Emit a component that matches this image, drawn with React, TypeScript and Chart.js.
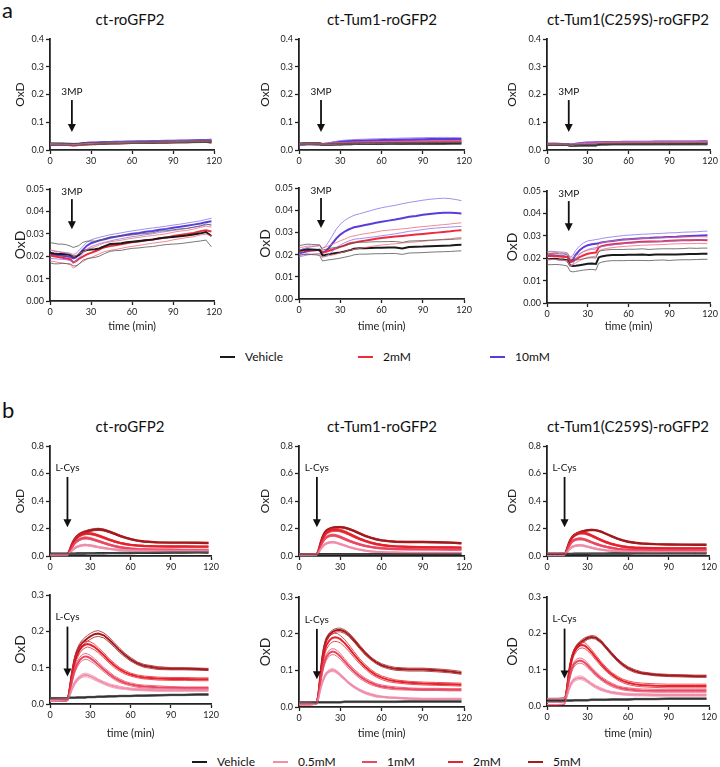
import React, { useEffect, useRef } from "react";
import { Chart, registerables } from "chart.js";
Chart.register(...registerables);

const FONT = "Lato, 'Open Sans', sans-serif";

// ---------- time axes ----------
const TIME_A = [0, 3, 6, 9, 12, 15, 17, 19, 21, 24, 27, 30, 33, 36, 38, 40, 44, 48, 52, 56, 60, 65, 70, 75, 80, 85, 90, 95, 100, 105, 110, 114, 118];
const TIME_B = [0, 4, 8, 12, 13, 14, 15, 16, 17, 18, 19, 20, 22, 24, 26, 28, 30, 33, 36, 40, 44, 48, 52, 56, 60, 65, 70, 80, 90, 100, 110, 118];

const TITLES = ["ct-roGFP2", "ct-Tum1-roGFP2", "ct-Tum1(C259S)-roGFP2"];
const LEGEND_A = ["Vehicle", "2mM", "10mM"];
const LEGEND_B = ["Vehicle", "0.5mM", "1mM", "2mM", "5mM"];

// ---------- a: 3MP, ct-roGFP2 ----------
const A1_VEH = [0.0215, 0.0212, 0.0210, 0.0211, 0.0209, 0.0205, 0.0198, 0.0200, 0.0205, 0.0222, 0.0228, 0.0230, 0.0231, 0.0235, 0.0240, 0.0245, 0.0254, 0.0256, 0.0258, 0.0262, 0.0265, 0.0268, 0.0271, 0.0274, 0.0280, 0.0283, 0.0286, 0.0289, 0.0292, 0.0297, 0.0302, 0.0308, 0.0290];
const A1_VEH_SEM = [0.0045, 0.0046, 0.0044, 0.0043, 0.0042, 0.0040, 0.0041, 0.0043, 0.0042, 0.0040, 0.0039, 0.0038, 0.0036, 0.0035, 0.0034, 0.0033, 0.0032, 0.0031, 0.0032, 0.0031, 0.0030, 0.0031, 0.0030, 0.0031, 0.0032, 0.0031, 0.0032, 0.0033, 0.0032, 0.0033, 0.0034, 0.0036, 0.0048];
const A1_2MM = [0.0203, 0.0200, 0.0196, 0.0193, 0.0190, 0.0186, 0.0172, 0.0178, 0.0188, 0.0198, 0.0208, 0.0215, 0.0222, 0.0230, 0.0236, 0.0240, 0.0245, 0.0249, 0.0253, 0.0258, 0.0262, 0.0266, 0.0271, 0.0275, 0.0279, 0.0283, 0.0290, 0.0295, 0.0299, 0.0304, 0.0312, 0.0316, 0.0310];
const A1_2MM_SEM = [0.0025, 0.0024, 0.0024, 0.0023, 0.0023, 0.0024, 0.0025, 0.0024, 0.0023, 0.0022, 0.0021, 0.0021, 0.0020, 0.0020, 0.0020, 0.0019, 0.0019, 0.0019, 0.0018, 0.0018, 0.0018, 0.0018, 0.0018, 0.0017, 0.0017, 0.0017, 0.0017, 0.0017, 0.0016, 0.0017, 0.0017, 0.0018, 0.0020];
const A1_10MM = [0.0208, 0.0206, 0.0204, 0.0202, 0.0200, 0.0196, 0.0190, 0.0195, 0.0208, 0.0228, 0.0247, 0.0258, 0.0264, 0.0270, 0.0273, 0.0276, 0.0282, 0.0287, 0.0291, 0.0296, 0.0300, 0.0304, 0.0309, 0.0313, 0.0318, 0.0322, 0.0327, 0.0331, 0.0336, 0.0341, 0.0346, 0.0352, 0.0356];
const A1_10MM_SEM = [0.0018, 0.0017, 0.0017, 0.0016, 0.0016, 0.0017, 0.0018, 0.0017, 0.0016, 0.0016, 0.0015, 0.0015, 0.0015, 0.0014, 0.0014, 0.0014, 0.0014, 0.0013, 0.0013, 0.0013, 0.0013, 0.0013, 0.0013, 0.0013, 0.0012, 0.0012, 0.0012, 0.0012, 0.0012, 0.0012, 0.0012, 0.0012, 0.0013];

// ---------- a: 3MP, ct-Tum1-roGFP2 ----------
const A2_VEH = [0.0218, 0.0222, 0.0224, 0.0223, 0.0222, 0.0220, 0.0196, 0.0198, 0.0201, 0.0204, 0.0207, 0.0210, 0.0214, 0.0219, 0.0222, 0.0226, 0.0229, 0.0229, 0.0230, 0.0231, 0.0231, 0.0232, 0.0232, 0.0228, 0.0234, 0.0235, 0.0236, 0.0238, 0.0239, 0.0240, 0.0241, 0.0243, 0.0244];
const A2_VEH_SEM = [0.0022, 0.0022, 0.0023, 0.0023, 0.0023, 0.0024, 0.0024, 0.0025, 0.0025, 0.0026, 0.0026, 0.0026, 0.0026, 0.0027, 0.0027, 0.0027, 0.0027, 0.0027, 0.0027, 0.0027, 0.0027, 0.0027, 0.0027, 0.0027, 0.0027, 0.0027, 0.0027, 0.0027, 0.0027, 0.0027, 0.0027, 0.0027, 0.0027];
const A2_2MM = [0.0215, 0.0218, 0.0221, 0.0220, 0.0221, 0.0222, 0.0210, 0.0212, 0.0216, 0.0222, 0.0228, 0.0235, 0.0241, 0.0249, 0.0252, 0.0254, 0.0259, 0.0263, 0.0267, 0.0271, 0.0275, 0.0278, 0.0281, 0.0284, 0.0287, 0.0290, 0.0293, 0.0296, 0.0299, 0.0302, 0.0305, 0.0308, 0.0310];
const A2_2MM_SEM = [0.0015, 0.0016, 0.0017, 0.0018, 0.0018, 0.0019, 0.0020, 0.0021, 0.0022, 0.0024, 0.0026, 0.0027, 0.0028, 0.0029, 0.0030, 0.0030, 0.0031, 0.0031, 0.0031, 0.0031, 0.0032, 0.0032, 0.0032, 0.0032, 0.0032, 0.0033, 0.0033, 0.0033, 0.0033, 0.0033, 0.0033, 0.0033, 0.0033];
const A2_10MM = [0.0205, 0.0210, 0.0215, 0.0218, 0.0220, 0.0222, 0.0208, 0.0214, 0.0225, 0.0248, 0.0272, 0.0290, 0.0303, 0.0313, 0.0318, 0.0323, 0.0328, 0.0333, 0.0338, 0.0343, 0.0348, 0.0353, 0.0358, 0.0364, 0.0370, 0.0374, 0.0379, 0.0383, 0.0386, 0.0388, 0.0388, 0.0387, 0.0385];
const A2_10MM_SEM = [0.0015, 0.0016, 0.0017, 0.0017, 0.0018, 0.0018, 0.0020, 0.0022, 0.0027, 0.0035, 0.0042, 0.0047, 0.0050, 0.0052, 0.0053, 0.0054, 0.0056, 0.0058, 0.0060, 0.0062, 0.0063, 0.0064, 0.0064, 0.0065, 0.0065, 0.0066, 0.0066, 0.0066, 0.0066, 0.0066, 0.0064, 0.0061, 0.0058];

// ---------- a: 3MP, ct-Tum1(C259S)-roGFP2 ----------
const A3_VEH = [0.0195, 0.0196, 0.0197, 0.0195, 0.0194, 0.0190, 0.0168, 0.0165, 0.0166, 0.0169, 0.0172, 0.0175, 0.0176, 0.0174, 0.0203, 0.0208, 0.0212, 0.0214, 0.0214, 0.0214, 0.0215, 0.0215, 0.0216, 0.0214, 0.0216, 0.0217, 0.0216, 0.0217, 0.0218, 0.0219, 0.0219, 0.0220, 0.0220];
const A3_VEH_SEM = [0.0024, 0.0025, 0.0025, 0.0024, 0.0025, 0.0025, 0.0026, 0.0026, 0.0025, 0.0025, 0.0025, 0.0026, 0.0026, 0.0027, 0.0026, 0.0026, 0.0025, 0.0025, 0.0025, 0.0025, 0.0025, 0.0025, 0.0026, 0.0025, 0.0025, 0.0025, 0.0026, 0.0025, 0.0025, 0.0026, 0.0025, 0.0025, 0.0025];
const A3_2MM = [0.0210, 0.0211, 0.0210, 0.0208, 0.0207, 0.0205, 0.0182, 0.0186, 0.0195, 0.0205, 0.0213, 0.0220, 0.0223, 0.0225, 0.0248, 0.0254, 0.0259, 0.0262, 0.0265, 0.0267, 0.0269, 0.0271, 0.0273, 0.0274, 0.0275, 0.0276, 0.0278, 0.0279, 0.0280, 0.0280, 0.0281, 0.0281, 0.0280];
const A3_2MM_SEM = [0.0017, 0.0017, 0.0016, 0.0016, 0.0016, 0.0016, 0.0017, 0.0017, 0.0016, 0.0016, 0.0016, 0.0016, 0.0016, 0.0016, 0.0016, 0.0016, 0.0015, 0.0015, 0.0015, 0.0015, 0.0015, 0.0015, 0.0015, 0.0015, 0.0015, 0.0015, 0.0015, 0.0015, 0.0015, 0.0015, 0.0015, 0.0015, 0.0015];
const A3_10MM = [0.0212, 0.0213, 0.0212, 0.0210, 0.0209, 0.0206, 0.0186, 0.0192, 0.0215, 0.0236, 0.0250, 0.0258, 0.0262, 0.0265, 0.0267, 0.0270, 0.0274, 0.0277, 0.0280, 0.0283, 0.0285, 0.0287, 0.0289, 0.0290, 0.0292, 0.0293, 0.0295, 0.0296, 0.0298, 0.0299, 0.0300, 0.0301, 0.0302];
const A3_10MM_SEM = [0.0018, 0.0018, 0.0018, 0.0018, 0.0018, 0.0018, 0.0019, 0.0019, 0.0019, 0.0019, 0.0019, 0.0019, 0.0018, 0.0018, 0.0018, 0.0018, 0.0018, 0.0018, 0.0018, 0.0018, 0.0018, 0.0018, 0.0018, 0.0018, 0.0018, 0.0018, 0.0018, 0.0018, 0.0018, 0.0018, 0.0018, 0.0019, 0.0019];

// ---------- b: L-Cys, ct-roGFP2 ----------
const B1_VEH = [0.016, 0.016, 0.016, 0.016, 0.016, 0.017, 0.017, 0.017, 0.017, 0.017, 0.017, 0.018, 0.018, 0.018, 0.018, 0.019, 0.019, 0.019, 0.020, 0.020, 0.021, 0.021, 0.022, 0.022, 0.022, 0.023, 0.023, 0.024, 0.025, 0.025, 0.026, 0.026];
const B1_VEH_SEM = [0.002, 0.002, 0.002, 0.002, 0.002, 0.002, 0.002, 0.002, 0.002, 0.002, 0.002, 0.002, 0.002, 0.002, 0.002, 0.002, 0.002, 0.002, 0.002, 0.002, 0.002, 0.002, 0.002, 0.002, 0.002, 0.002, 0.002, 0.002, 0.002, 0.002, 0.002, 0.002];
const B1_05 = [0.010, 0.010, 0.011, 0.011, 0.012, 0.018, 0.028, 0.038, 0.047, 0.055, 0.061, 0.066, 0.073, 0.078, 0.080, 0.079, 0.076, 0.071, 0.065, 0.058, 0.052, 0.048, 0.045, 0.043, 0.041, 0.040, 0.039, 0.038, 0.038, 0.038, 0.038, 0.038];
const B1_05_SEM = [0.003, 0.003, 0.003, 0.003, 0.003, 0.003, 0.004, 0.004, 0.005, 0.005, 0.005, 0.005, 0.005, 0.005, 0.005, 0.005, 0.005, 0.005, 0.004, 0.004, 0.004, 0.004, 0.004, 0.003, 0.003, 0.003, 0.003, 0.003, 0.003, 0.003, 0.003, 0.003];
const B1_1 = [0.010, 0.010, 0.010, 0.011, 0.012, 0.022, 0.040, 0.058, 0.074, 0.088, 0.099, 0.108, 0.120, 0.128, 0.131, 0.130, 0.126, 0.118, 0.108, 0.095, 0.083, 0.072, 0.064, 0.058, 0.054, 0.050, 0.048, 0.046, 0.045, 0.044, 0.044, 0.044];
const B1_1_SEM = [0.003, 0.003, 0.003, 0.003, 0.003, 0.004, 0.005, 0.006, 0.007, 0.007, 0.008, 0.008, 0.008, 0.008, 0.008, 0.008, 0.008, 0.007, 0.007, 0.006, 0.006, 0.005, 0.005, 0.004, 0.004, 0.004, 0.004, 0.004, 0.003, 0.003, 0.003, 0.003];
const B1_2 = [0.010, 0.010, 0.010, 0.011, 0.012, 0.025, 0.048, 0.072, 0.093, 0.110, 0.123, 0.133, 0.148, 0.158, 0.163, 0.165, 0.163, 0.157, 0.148, 0.134, 0.119, 0.106, 0.095, 0.087, 0.081, 0.076, 0.073, 0.070, 0.069, 0.069, 0.068, 0.068];
const B1_2_SEM = [0.003, 0.003, 0.003, 0.003, 0.003, 0.004, 0.006, 0.007, 0.008, 0.009, 0.009, 0.009, 0.009, 0.009, 0.009, 0.008, 0.008, 0.008, 0.007, 0.007, 0.006, 0.006, 0.005, 0.005, 0.004, 0.004, 0.004, 0.004, 0.004, 0.004, 0.004, 0.004];
const B1_5 = [0.010, 0.010, 0.010, 0.011, 0.012, 0.026, 0.050, 0.076, 0.098, 0.117, 0.131, 0.142, 0.158, 0.168, 0.175, 0.181, 0.186, 0.192, 0.194, 0.189, 0.177, 0.162, 0.147, 0.134, 0.123, 0.112, 0.105, 0.099, 0.097, 0.097, 0.096, 0.095];
const B1_5_SEM = [0.003, 0.003, 0.003, 0.003, 0.003, 0.004, 0.006, 0.007, 0.008, 0.008, 0.008, 0.008, 0.008, 0.008, 0.008, 0.008, 0.008, 0.008, 0.008, 0.007, 0.007, 0.006, 0.006, 0.005, 0.005, 0.004, 0.004, 0.004, 0.003, 0.003, 0.003, 0.003];

// ---------- b: L-Cys, ct-Tum1-roGFP2 ----------
const B2_VEH = [0.013, 0.013, 0.013, 0.013, 0.013, 0.013, 0.013, 0.013, 0.013, 0.013, 0.013, 0.013, 0.013, 0.013, 0.013, 0.013, 0.013, 0.014, 0.014, 0.014, 0.014, 0.014, 0.014, 0.014, 0.014, 0.014, 0.014, 0.015, 0.015, 0.015, 0.015, 0.015];
const B2_VEH_SEM = [0.002, 0.002, 0.002, 0.002, 0.002, 0.002, 0.002, 0.002, 0.002, 0.002, 0.002, 0.002, 0.002, 0.002, 0.002, 0.002, 0.002, 0.002, 0.002, 0.002, 0.002, 0.002, 0.002, 0.002, 0.002, 0.002, 0.002, 0.002, 0.002, 0.002, 0.002, 0.002];
const B2_05 = [0.010, 0.010, 0.010, 0.011, 0.012, 0.022, 0.040, 0.055, 0.068, 0.078, 0.086, 0.092, 0.098, 0.101, 0.099, 0.094, 0.087, 0.077, 0.066, 0.055, 0.046, 0.039, 0.034, 0.030, 0.028, 0.026, 0.025, 0.023, 0.022, 0.022, 0.022, 0.022];
const B2_05_SEM = [0.004, 0.004, 0.004, 0.004, 0.004, 0.004, 0.004, 0.004, 0.004, 0.004, 0.004, 0.004, 0.004, 0.004, 0.004, 0.004, 0.004, 0.003, 0.003, 0.003, 0.003, 0.003, 0.003, 0.003, 0.002, 0.002, 0.002, 0.002, 0.002, 0.002, 0.002, 0.002];
const B2_1 = [0.010, 0.010, 0.010, 0.011, 0.012, 0.028, 0.055, 0.080, 0.100, 0.116, 0.128, 0.137, 0.147, 0.151, 0.150, 0.145, 0.138, 0.125, 0.112, 0.097, 0.084, 0.074, 0.066, 0.060, 0.056, 0.053, 0.051, 0.049, 0.048, 0.048, 0.047, 0.047];
const B2_1_SEM = [0.004, 0.004, 0.004, 0.004, 0.004, 0.005, 0.006, 0.007, 0.008, 0.008, 0.008, 0.008, 0.008, 0.008, 0.008, 0.008, 0.008, 0.007, 0.007, 0.006, 0.006, 0.005, 0.005, 0.004, 0.004, 0.004, 0.004, 0.003, 0.003, 0.003, 0.003, 0.003];
const B2_2 = [0.010, 0.010, 0.010, 0.011, 0.012, 0.030, 0.062, 0.095, 0.122, 0.143, 0.158, 0.169, 0.181, 0.188, 0.190, 0.189, 0.185, 0.175, 0.162, 0.143, 0.125, 0.110, 0.097, 0.087, 0.080, 0.074, 0.070, 0.066, 0.064, 0.063, 0.062, 0.061];
const B2_2_SEM = [0.004, 0.004, 0.004, 0.004, 0.004, 0.005, 0.007, 0.009, 0.010, 0.011, 0.011, 0.011, 0.011, 0.011, 0.011, 0.011, 0.010, 0.010, 0.009, 0.008, 0.007, 0.006, 0.006, 0.005, 0.005, 0.005, 0.004, 0.004, 0.004, 0.004, 0.004, 0.004];
const B2_5 = [0.010, 0.010, 0.010, 0.011, 0.012, 0.032, 0.068, 0.105, 0.135, 0.158, 0.174, 0.185, 0.197, 0.204, 0.208, 0.210, 0.210, 0.206, 0.198, 0.182, 0.164, 0.147, 0.133, 0.122, 0.114, 0.108, 0.104, 0.102, 0.102, 0.100, 0.097, 0.093];
const B2_5_SEM = [0.004, 0.004, 0.004, 0.004, 0.004, 0.005, 0.006, 0.006, 0.006, 0.006, 0.006, 0.006, 0.005, 0.005, 0.005, 0.005, 0.005, 0.005, 0.005, 0.005, 0.005, 0.005, 0.004, 0.004, 0.004, 0.004, 0.004, 0.004, 0.004, 0.004, 0.004, 0.004];

// ---------- b: L-Cys, ct-Tum1(C259S)-roGFP2 ----------
const B3_VEH = [0.015, 0.015, 0.015, 0.015, 0.015, 0.015, 0.015, 0.015, 0.015, 0.015, 0.015, 0.016, 0.016, 0.016, 0.016, 0.016, 0.016, 0.017, 0.017, 0.017, 0.017, 0.018, 0.018, 0.018, 0.018, 0.019, 0.019, 0.019, 0.020, 0.020, 0.020, 0.020];
const B3_VEH_SEM = [0.002, 0.002, 0.002, 0.002, 0.002, 0.002, 0.002, 0.002, 0.002, 0.002, 0.002, 0.002, 0.002, 0.002, 0.002, 0.002, 0.002, 0.002, 0.002, 0.002, 0.002, 0.002, 0.002, 0.002, 0.002, 0.002, 0.002, 0.002, 0.002, 0.002, 0.002, 0.002];
const B3_05 = [0.012, 0.012, 0.012, 0.013, 0.014, 0.020, 0.032, 0.044, 0.054, 0.062, 0.068, 0.072, 0.076, 0.078, 0.077, 0.073, 0.068, 0.060, 0.053, 0.046, 0.041, 0.037, 0.035, 0.033, 0.032, 0.031, 0.031, 0.030, 0.030, 0.030, 0.030, 0.030];
const B3_05_SEM = [0.008, 0.008, 0.008, 0.008, 0.008, 0.006, 0.005, 0.005, 0.005, 0.005, 0.005, 0.005, 0.005, 0.005, 0.005, 0.005, 0.004, 0.004, 0.004, 0.004, 0.003, 0.003, 0.003, 0.003, 0.003, 0.003, 0.003, 0.003, 0.003, 0.003, 0.003, 0.003];
const B3_1 = [0.012, 0.012, 0.012, 0.013, 0.014, 0.024, 0.045, 0.066, 0.084, 0.098, 0.108, 0.115, 0.122, 0.125, 0.124, 0.119, 0.112, 0.100, 0.089, 0.076, 0.066, 0.058, 0.052, 0.048, 0.046, 0.044, 0.043, 0.042, 0.042, 0.042, 0.042, 0.042];
const B3_1_SEM = [0.008, 0.008, 0.008, 0.008, 0.008, 0.006, 0.006, 0.007, 0.007, 0.007, 0.007, 0.007, 0.007, 0.007, 0.007, 0.007, 0.007, 0.006, 0.006, 0.005, 0.005, 0.005, 0.004, 0.004, 0.004, 0.004, 0.004, 0.004, 0.004, 0.004, 0.004, 0.004];
const B3_2 = [0.012, 0.012, 0.012, 0.013, 0.014, 0.026, 0.052, 0.080, 0.104, 0.123, 0.137, 0.147, 0.159, 0.166, 0.168, 0.166, 0.160, 0.148, 0.134, 0.116, 0.100, 0.087, 0.077, 0.069, 0.064, 0.060, 0.058, 0.056, 0.055, 0.055, 0.055, 0.055];
const B3_2_SEM = [0.009, 0.009, 0.009, 0.009, 0.009, 0.007, 0.007, 0.008, 0.008, 0.008, 0.008, 0.008, 0.008, 0.008, 0.008, 0.008, 0.008, 0.007, 0.007, 0.006, 0.006, 0.005, 0.005, 0.005, 0.005, 0.005, 0.005, 0.005, 0.005, 0.005, 0.005, 0.005];
const B3_5 = [0.012, 0.012, 0.012, 0.013, 0.014, 0.028, 0.056, 0.086, 0.110, 0.128, 0.141, 0.151, 0.164, 0.172, 0.178, 0.183, 0.187, 0.190, 0.188, 0.177, 0.160, 0.143, 0.127, 0.114, 0.104, 0.096, 0.091, 0.086, 0.084, 0.083, 0.082, 0.082];
const B3_5_SEM = [0.009, 0.009, 0.009, 0.009, 0.009, 0.006, 0.005, 0.005, 0.005, 0.005, 0.005, 0.005, 0.005, 0.005, 0.005, 0.005, 0.004, 0.004, 0.004, 0.004, 0.004, 0.004, 0.004, 0.004, 0.004, 0.004, 0.003, 0.003, 0.003, 0.003, 0.003, 0.003];

// ---------- colours ----------
const C_VEH = "#1a1a1a";
const C_VEH_THIN = "#555555";
const C_A2 = "#ee2a3c";
const C_A2_THIN = "#f06a78";
const C_A10 = "#5a3bdc";
const C_A10_THIN = "#8a72ea";
const C_B05 = "#f08eab";
const C_B1 = "#ea4862";
const C_B2 = "#e6232d";
const C_B5 = "#a31b1e";

type Series = { mean: number[]; sem: number[]; color: string; thin: string };
type Ann = { text: string; x: number; ty: number; y1: number; y2: number };
type Panel = {
  L: number; T: number; R: number; B: number;
  yMax: number; yStep: number; yDec: number;
  xTitleY: number | null; yTitleX: number; yTitleSize: number;
  time: number[]; series: Series[]; ann: Ann; meanWidth: number;
};

const aSeries = (veh: number[], vehS: number[], r: number[], rS: number[], p: number[], pS: number[]): Series[] => [
  { mean: veh, sem: vehS, color: C_VEH, thin: C_VEH_THIN },
  { mean: r, sem: rS, color: C_A2, thin: C_A2_THIN },
  { mean: p, sem: pS, color: C_A10, thin: C_A10_THIN },
];
const bSeries = (v: number[], vS: number[], a: number[], aS: number[], b: number[], bS: number[], c: number[], cS: number[], d: number[], dS: number[]): Series[] => [
  { mean: v, sem: vS, color: C_VEH, thin: C_VEH_THIN },
  { mean: a, sem: aS, color: C_B05, thin: C_B05 },
  { mean: b, sem: bS, color: C_B1, thin: C_B1 },
  { mean: c, sem: cS, color: C_B2, thin: C_B2 },
  { mean: d, sem: dS, color: C_B5, thin: C_B5 },
];

const A_SER = [
  aSeries(A1_VEH, A1_VEH_SEM, A1_2MM, A1_2MM_SEM, A1_10MM, A1_10MM_SEM),
  aSeries(A2_VEH, A2_VEH_SEM, A2_2MM, A2_2MM_SEM, A2_10MM, A2_10MM_SEM),
  aSeries(A3_VEH, A3_VEH_SEM, A3_2MM, A3_2MM_SEM, A3_10MM, A3_10MM_SEM),
];
const B_SER = [
  bSeries(B1_VEH, B1_VEH_SEM, B1_05, B1_05_SEM, B1_1, B1_1_SEM, B1_2, B1_2_SEM, B1_5, B1_5_SEM),
  bSeries(B2_VEH, B2_VEH_SEM, B2_05, B2_05_SEM, B2_1, B2_1_SEM, B2_2, B2_2_SEM, B2_5, B2_5_SEM),
  bSeries(B3_VEH, B3_VEH_SEM, B3_05, B3_05_SEM, B3_1, B3_1_SEM, B3_2, B3_2_SEM, B3_5, B3_5_SEM),
];

const COLS = [
  { L: 50, R: 216, yt: 20 },
  { L: 299, R: 466, yt: 265 },
  { L: 547, R: 712, yt: 512 },
];

const PANELS: Panel[] = [];
COLS.forEach((c, i) => {
  PANELS.push({ L: c.L, T: 39, R: c.R, B: 150, yMax: 0.4, yStep: 0.1, yDec: 1, xTitleY: null, yTitleX: c.yt, yTitleSize: 12,
    time: TIME_A, series: A_SER[i], meanWidth: 2.6, ann: { text: "3MP", x: 16, ty: 0.209, y1: 0.18, y2: 0.065 } });
  PANELS.push({ L: c.L, T: [189, 188, 191][i], R: c.R, B: [301, 299, 303][i], yMax: 0.05, yStep: 0.01, yDec: 2, xTitleY: 326, yTitleX: c.yt, yTitleSize: 14,
    time: TIME_A, series: A_SER[i], meanWidth: 2, ann: { text: "3MP", x: 16, ty: 0.0488, y1: 0.0455, y2: 0.032 } });
  PANELS.push({ L: c.L, T: 446, R: [213, 466, 711][i], B: 556, yMax: 0.8, yStep: 0.2, yDec: 1, xTitleY: null, yTitleX: c.yt, yTitleSize: 12,
    time: TIME_B, series: B_SER[i], meanWidth: 2.4, ann: { text: "L-Cys", x: 13, ty: 0.64, y1: 0.575, y2: 0.21 } });
  PANELS.push({ L: c.L, T: [595, 597, 597][i], R: [213, 466, 711][i], B: [704, 707, 706][i], yMax: 0.3, yStep: 0.1, yDec: 1, xTitleY: 733, yTitleX: c.yt, yTitleSize: 14,
    time: TIME_B, series: B_SER[i], meanWidth: 2, ann: { text: "L-Cys", x: 13, ty: 0.239, y1: 0.213, y2: 0.076 } });
});

function ChartPanel({ p }: { p: Panel }) {
  const ref = useRef<HTMLCanvasElement | null>(null);
  const xh = p.xTitleY != null ? 36 : 20;
  const padTop = 8;
  const padRight = 8;
  const cl = p.L - 50;
  const ct = p.T - padTop;
  const cw = p.R - p.L + 50 + padRight;
  const chh = p.B - p.T + padTop + xh;

  useEffect(() => {
    if (!ref.current) return;
    const datasets: any[] = [];
    p.series.forEach((s) => {
      const up = p.time.map((t, i) => ({ x: t, y: s.mean[i] + s.sem[i] }));
      const lo = p.time.map((t, i) => ({ x: t, y: s.mean[i] - s.sem[i] }));
      datasets.push({ data: up, borderColor: s.thin, borderWidth: 0.8, pointRadius: 0, tension: 0, fill: false });
      datasets.push({ data: lo, borderColor: s.thin, borderWidth: 0.8, pointRadius: 0, tension: 0, fill: false });
    });
    p.series.forEach((s) => {
      datasets.push({ data: p.time.map((t, i) => ({ x: t, y: s.mean[i] })), borderColor: s.color, borderWidth: p.meanWidth, pointRadius: 0, tension: 0, fill: false });
    });

    const yTitleLh = p.yTitleSize * 1.2;
    const yTitlePad = p.yTitleX - cl - yTitleLh / 2;
    const xTitleLh = 11 * 1.2;
    const xTitlePad = p.xTitleY != null ? (ct + chh - xTitleLh / 2) - p.xTitleY : 0;

    const annPlugin = {
      id: "arrowAnn",
      afterDatasetsDraw(chart: any) {
        const { ctx, scales } = chart;
        const a = p.ann;
        const px = scales.x.getPixelForValue(a.x);
        const ty = scales.y.getPixelForValue(a.ty);
        const y1 = scales.y.getPixelForValue(a.y1);
        const y2 = scales.y.getPixelForValue(a.y2);
        ctx.save();
        ctx.fillStyle = "#111";
        ctx.strokeStyle = "#111";
        ctx.font = `10px ${FONT}`;
        ctx.textAlign = "center";
        ctx.textBaseline = "middle";
        ctx.fillText(a.text, px, ty);
        ctx.lineWidth = 1.8;
        ctx.beginPath();
        ctx.moveTo(px, y1);
        ctx.lineTo(px, y2 - 6);
        ctx.stroke();
        ctx.beginPath();
        ctx.moveTo(px - 4, y2 - 8);
        ctx.lineTo(px + 4, y2 - 8);
        ctx.lineTo(px, y2);
        ctx.closePath();
        ctx.fill();
        ctx.restore();
      },
    };

    const axisCommon = {
      grid: { display: true, drawOnChartArea: false, drawTicks: true, tickLength: 4, tickColor: "#222", tickWidth: 1.3 },
      border: { display: true, color: "#222", width: 1.8 },
    };

    const chart = new Chart(ref.current, {
      type: "line",
      data: { datasets },
      options: {
        animation: false,
        responsive: false,
        maintainAspectRatio: false,
        events: [],
        layout: { padding: { top: padTop, right: padRight, left: 0, bottom: 0 } },
        plugins: { legend: { display: false }, tooltip: { enabled: false } },
        scales: {
          x: {
            type: "linear", min: 0, max: 120,
            ...axisCommon,
            ticks: { stepSize: 30, maxRotation: 0, padding: 2, color: "#222", font: { family: FONT, size: 9 } },
            title: { display: p.xTitleY != null, text: "time (min)", color: "#222", font: { family: FONT, size: 11 }, padding: { top: 0, bottom: xTitlePad } },
            afterFit: (s: any) => { s.height = xh; },
          },
          y: {
            type: "linear", min: 0, max: p.yMax,
            ...axisCommon,
            ticks: { stepSize: p.yStep, padding: 2, color: "#222", font: { family: FONT, size: 9 }, callback: (v: any) => Number(v).toFixed(p.yDec) },
            title: { display: true, text: "OxD", color: "#222", font: { family: FONT, size: p.yTitleSize }, padding: { top: yTitlePad, bottom: 0 } },
            afterFit: (s: any) => { s.width = 50; },
          },
        },
      } as any,
      plugins: [annPlugin],
    });
    return () => chart.destroy();
  }, []);

  return <canvas ref={ref} width={cw} height={chh} style={{ position: "absolute", left: cl, top: ct, width: cw, height: chh }} />;
}

const TITLE_X = [130, 382, 628];

function Text({ x, y, size, children }: { x: number; y: number; size: number; children: any }) {
  return (
    <div style={{ position: "absolute", left: x, top: y, transform: "translate(-50%, -50%)", fontFamily: FONT, fontSize: size, color: "#111", whiteSpace: "nowrap", lineHeight: 1 }}>
      {children}
    </div>
  );
}

function LegendItem({ x, y, color, label }: { x: number; y: number; color: string; label: string }) {
  return (
    <>
      <div style={{ position: "absolute", left: x, top: y - 1, width: 15, height: 2, background: color }} />
      <div style={{ position: "absolute", left: x + 25, top: y, transform: "translateY(-50%)", fontFamily: FONT, fontSize: 12, color: "#111", whiteSpace: "nowrap", lineHeight: 1 }}>{label}</div>
    </>
  );
}

export default function App() {
  const legA = [C_VEH, C_A2, C_A10];
  const legAx = [220, 358, 490];
  const legB = [C_VEH, C_B05, C_B1, C_B2, C_B5];
  const legBx = [192, 273, 362, 448, 528];
  return (
    <div style={{ position: "absolute", left: 0, top: 0, width: 720, height: 767, overflow: "hidden", background: "#fff" }}>
      <div style={{ position: "absolute", left: 2, top: -4, fontFamily: FONT, fontSize: 22, color: "#111" }}>a</div>
      <div style={{ position: "absolute", left: 2, top: 396, fontFamily: FONT, fontSize: 22, color: "#111" }}>b</div>
      {TITLES.map((t, i) => <Text key={"ta" + i} x={TITLE_X[i]} y={19} size={15}>{t}</Text>)}
      {TITLES.map((t, i) => <Text key={"tb" + i} x={TITLE_X[i]} y={426} size={15}>{t}</Text>)}
      {PANELS.map((p, i) => <ChartPanel key={i} p={p} />)}
      {LEGEND_A.map((l, i) => <LegendItem key={"la" + i} x={legAx[i]} y={357} color={legA[i]} label={l} />)}
      {LEGEND_B.map((l, i) => <LegendItem key={"lb" + i} x={legBx[i]} y={762} color={legB[i]} label={l} />)}
    </div>
  );
}
